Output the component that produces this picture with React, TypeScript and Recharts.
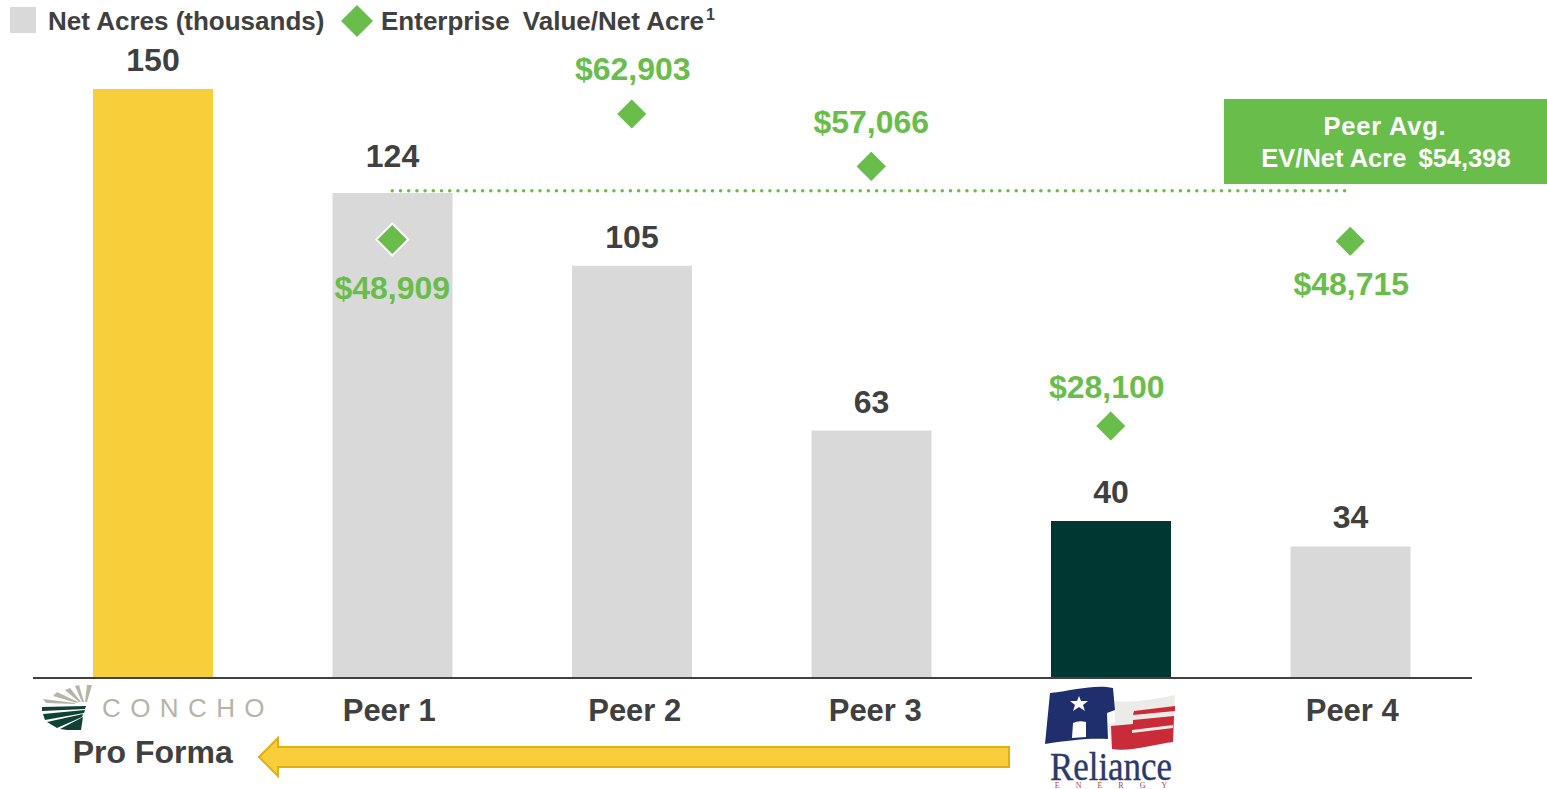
import React from "react";
import {
  Bar,
  Cell,
  ComposedChart,
  Customized,
  LabelList,
  Legend,
  Line,
  ReferenceLine,
  XAxis,
  YAxis,
} from "recharts";

const categories = ["Pro Forma", "Peer 1", "Peer 2", "Peer 3", "Reliance", "Peer 4"];
const netAcres = [150, 123.5, 105, 63, 40, 33.5];
const evPerAcre = [null, 48909, 62903, 57066, 28100, 48715];
const peerAverage = 54398;

const rows = categories.map((name, i) => ({
  name,
  netAcres: netAcres[i],
  evPerAcre: evPerAcre[i],
}));

const GREEN = "#69BD4A";
const DARK = "#404040";
const FONT = "'Liberation Sans', Arial, sans-serif";

const barColor: Record<string, string> = {
  "Pro Forma": "#F8CE3B",
  Reliance: "#003732",
};

// nudges to follow the hand-placed labels of the slide
const acreLabelShift: Record<string, number> = { "Peer 1": -8 };
const evLabelShift: Record<string, [number, number]> = {
  "Peer 1": [0, 49],
  "Peer 2": [1, -45],
  "Peer 3": [0, -44],
  Reliance: [-4, -39],
  "Peer 4": [1, 43],
};
const tickShift: Record<string, number> = { "Peer 1": -3, "Peer 2": 3, "Peer 3": 4, "Peer 4": 2 };

const diamond = (cx: number, cy: number, r: number) =>
  `${cx},${cy - r} ${cx + r},${cy} ${cx},${cy + r} ${cx - r},${cy}`;

const EvDot = (props: any) => {
  const { cx, cy, index } = props;
  if (cy == null || Number.isNaN(cy)) return <g key={index} />;
  return <polygon key={index} points={diamond(cx, cy, 16)} fill={GREEN} stroke="#fff" strokeWidth={2} />;
};

const EvLabel = (props: any) => {
  const { x, y, value, index } = props;
  if (value == null) return null;
  const [dx, dy] = evLabelShift[categories[index]];
  return (
    <text x={x + dx} y={y + dy + 10.5} textAnchor="middle" fontFamily={FONT} fontWeight={700} fontSize={32} fill={GREEN}>
      {"$" + Number(value).toLocaleString("en-US")}
    </text>
  );
};

const AcreLabel = (props: any) => {
  const { x, y, width, value, index } = props;
  const shift = acreLabelShift[categories[index]] ?? 0;
  return (
    <text x={x + width / 2} y={y - 29 + shift + 11} textAnchor="middle" fontFamily={FONT} fontWeight={700} fontSize={32} fill={DARK}>
      {Math.round(value)}
    </text>
  );
};

const ConchoLogo = () => (
  <g>
    <g fill="#B4B4A8">
      <polygon points="92,685 87,685 85,702 87,702" />
      <polygon points="79,685 75,686 82,702 84,702" />
      <polygon points="70,688 65,690 79,702 81,702" />
      <polygon points="57,692 53,696 77,703 78,702" />
      <polygon points="43,699 46,703 75,704 75,703" />
    </g>
    <g fill="#0F4235">
      <polygon points="42,707 86,706 85,709 42,711" />
      <polygon points="43,714 85,710 84,713 45,720" />
      <polygon points="47,722 83,714 82,717 57,728" />
      <polygon points="67,730 81,730 83,717 60,729" />
    </g>
    <text x={102} y={717} fontFamily={FONT} fontSize={26} fill="#B4B4A8" letterSpacing={9.4}>
      CONCHO
    </text>
  </g>
);

const RelianceLogo = () => (
  <g>
    <path d="M1050,693 C1075,690 1095,684 1113,688 L1115,710 L1107,713 L1108,739 C1090,738 1070,740 1045,744 Z" fill="#1F2F6E" />
    <polygon
      points="1079,696 1081,701 1088,701 1083,705 1085,711 1079,707 1073,711 1075,705 1070,701 1077,701"
      fill="#fff"
    />
    <path d="M1072,738 L1073,723 Q1079,720 1086,722 L1086,737 Z" fill="#fff" />
    <path d="M1115,701 C1135,703 1155,699 1175,695 L1173,742 C1155,744 1130,752 1112,749 L1108,725 L1115,722 Z" fill="#EDEBE8" />
    <polygon points="1134,711 1175,706 1175,711 1133,715" fill="#C92B39" />
    <path d="M1111,726 L1133,724 L1133,720 L1174,716 L1173,742 C1155,744 1130,752 1112,749 Z" fill="#C92B39" />
    <polygon points="1132,730 1173,725 1173,728 1132,733" fill="#EDEBE8" />
    <text
      x={1111}
      y={780}
      textAnchor="middle"
      fontFamily="'Liberation Serif', serif"
      fontSize={39}
      fill="#2A3A6B"
      stroke="#2A3A6B"
      strokeWidth={0.4}
      textLength={122}
      lengthAdjust="spacingAndGlyphs"
    >
      Reliance
    </text>
    <text x={1119} y={788} textAnchor="middle" fontFamily="'Liberation Serif', serif" fontSize={8} fill="#B5404A" letterSpacing={16}>
      ENERGY
    </text>
  </g>
);

const CategoryTick = (props: any) => {
  const { x, payload } = props;
  const name = payload.value;
  if (name === "Pro Forma") {
    return (
      <g>
        <ConchoLogo />
        <text x={x} y={763} textAnchor="middle" fontFamily={FONT} fontWeight={700} fontSize={32} fill={DARK}>
          {name}
        </text>
      </g>
    );
  }
  if (name === "Reliance") return <RelianceLogo />;
  return (
    <text x={x + (tickShift[name] ?? 0)} y={721} textAnchor="middle" fontFamily={FONT} fontWeight={700} fontSize={31} fill={DARK}>
      {name}
    </text>
  );
};

const Annotations = () => (
  <g>
    <line x1={1470} y1={678} x2={1472} y2={678} stroke={DARK} strokeWidth={2} />
    <polygon
      points="1009,747 278,747 278,738 259,757 278,776 278,767 1009,767"
      fill="#F8CE3B"
      stroke="#E4AE12"
      strokeWidth={2}
    />
    <rect x={1224} y={99} width={323} height={85} fill={GREEN} />
    <g textAnchor="middle" fontFamily={FONT} fontWeight={700} fontSize={25.5} fill="#fff">
      <text x={1385} y={135} letterSpacing={0.8}>
        Peer Avg.
      </text>
      <text x={1386} y={167}>
        EV/Net Acre
        <tspan dx={5}> $54,398</tspan>
      </text>
    </g>
  </g>
);

const LegendContent = () => {
  const text: React.CSSProperties = {
    position: "absolute",
    top: 6,
    fontFamily: FONT,
    fontWeight: 700,
    fontSize: 26,
    lineHeight: "30px",
    color: DARK,
    whiteSpace: "nowrap",
  };
  return (
    <div style={{ position: "relative", height: 0 }}>
      <div style={{ position: "absolute", left: 10, top: 7, width: 26, height: 26, background: "#D9D9D9" }} />
      <span style={{ ...text, left: 48 }}>Net Acres (thousands)</span>
      <svg style={{ position: "absolute", left: 340, top: 4 }} width={34} height={34}>
        <polygon points={diamond(17, 17, 16)} fill={GREEN} />
      </svg>
      <span style={{ ...text, left: 381 }}>
        <span style={{ marginRight: 6 }}>Enterprise</span> Value/Net Acre
        <sup style={{ fontSize: 16, lineHeight: 0, marginLeft: 2 }}>1</sup>
      </span>
    </div>
  );
};

const AverageLine = (props: any) => (
  <line
    x1={props.x1}
    y1={props.y1 + 0.5}
    x2={props.x2 - 2}
    y2={props.y2 + 0.5}
    stroke={GREEN}
    strokeWidth={3.5}
    strokeLinecap="round"
    strokeDasharray="0.01 8.2"
  />
);

export default function App() {
  return (
    <div style={{ position: "absolute", left: 0, top: 0, width: 1547, height: 789 }}>
      <ComposedChart
        width={1547}
        height={789}
        data={rows}
        margin={{ top: 78, right: 77, bottom: 0, left: 33 }}
        style={{ overflow: "visible" }}
      >
        <XAxis
          dataKey="name"
          height={111}
          interval={0}
          tickLine={false}
          axisLine={{ stroke: DARK, strokeWidth: 2 }}
          tick={<CategoryTick />}
        />
        <YAxis yAxisId="acres" hide domain={[0, 152.8]} />
        <YAxis yAxisId="ev" orientation="right" hide domain={[0, 66920]} />
        <Legend verticalAlign="top" align="left" content={<LegendContent />} wrapperStyle={{ left: 0, top: 0, width: 0 }} />
        <Bar yAxisId="acres" dataKey="netAcres" barSize={120} fill="#D9D9D9" isAnimationActive={false}>
          {rows.map((r) => (
            <Cell key={r.name} fill={barColor[r.name] ?? "#D9D9D9"} />
          ))}
          <LabelList dataKey="netAcres" content={<AcreLabel />} />
        </Bar>
        <ReferenceLine
          yAxisId="ev"
          segment={[
            { x: "Peer 1", y: peerAverage },
            { x: "Peer 4", y: peerAverage },
          ]}
          shape={<AverageLine />}
        />
        <Line
          yAxisId="ev"
          dataKey="evPerAcre"
          stroke="none"
          dot={(p: any) => <EvDot key={p.index} {...p} />}
          activeDot={false}
          isAnimationActive={false}
        >
          <LabelList dataKey="evPerAcre" content={<EvLabel />} />
        </Line>
        <Customized component={<Annotations />} />
      </ComposedChart>
    </div>
  );
}
